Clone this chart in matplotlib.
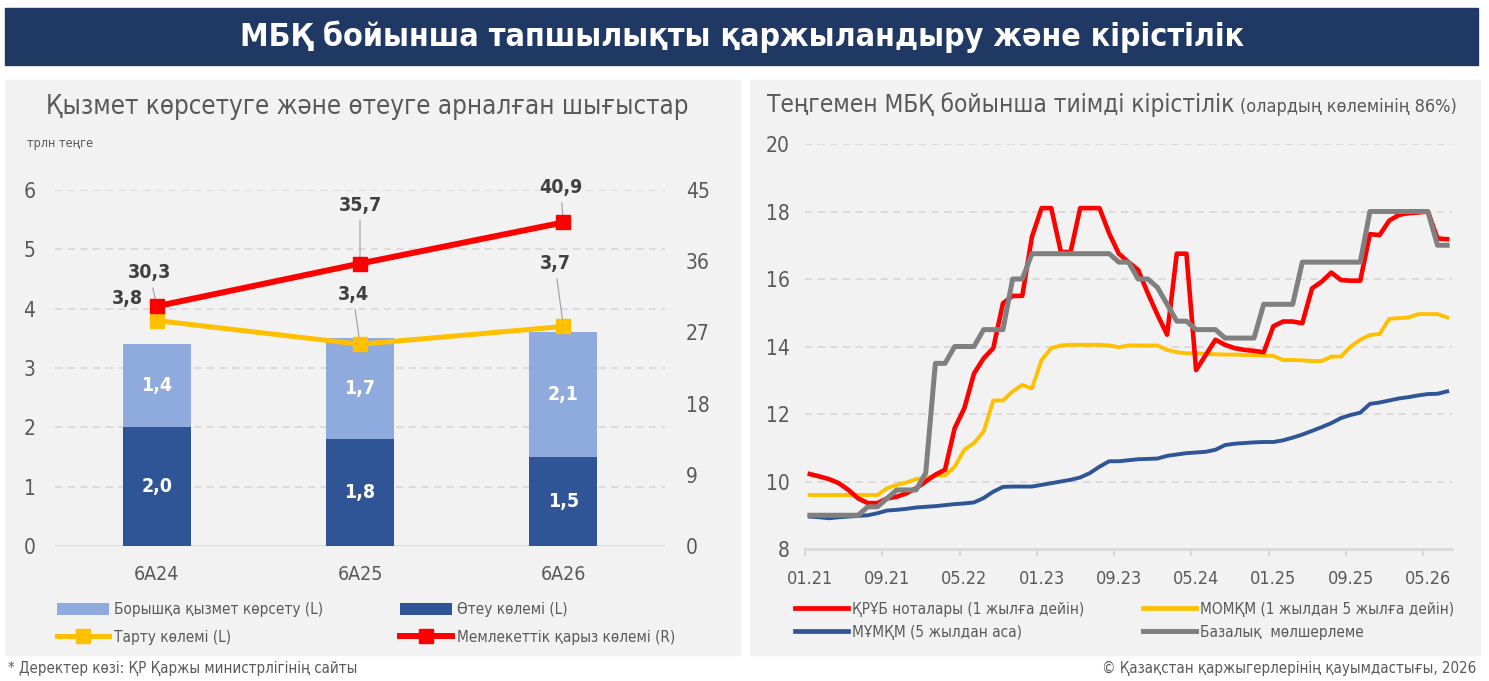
import matplotlib
matplotlib.use('Agg')
import matplotlib.pyplot as plt
from matplotlib import font_manager
from matplotlib.patches import Rectangle
from matplotlib.lines import Line2D
import numpy as np

# шрифт: узкий, если есть
names = {f.name for f in font_manager.fontManager.ttflist}
if 'Liberation Sans Narrow' in names:
    plt.rcParams['font.family'] = ['Liberation Sans Narrow', 'DejaVu Sans']
else:
    plt.rcParams['font.family'] = ['DejaVu Sans']
    plt.rcParams['font.stretch'] = 'condensed'

# ---- данные: левая панель ----
periods = ['6А24', '6А25', '6А26']
otey = [2.0, 1.8, 1.5]            # Өтеу көлемі (L)
qyzmet = [1.4, 1.7, 2.1]          # Борышқа қызмет көрсету (L)
tartu = [3.8, 3.4, 3.7]           # Тарту көлемі (L)
qaryz = [30.3, 35.7, 40.9]        # Мемлекеттік қарыз көлемі (R)

# ---- данные: правая панель (помесячно, 01.21 - 07.26) ----
month_labels = ['01.21', '09.21', '05.22', '01.23', '09.23', '05.24', '01.25', '09.25', '05.26']
kruyb = [10.22, 10.15, 10.07, 9.95, 9.75, 9.5, 9.36, 9.36, 9.5, 9.55,
         9.65, 9.8, 10.0, 10.2, 10.35, 11.58, 12.17, 13.2, 13.65, 13.95,
         15.28, 15.5, 15.5, 17.25, 18.1, 18.1, 16.8, 16.8, 18.1, 18.1,
         18.1, 17.35, 16.75, 16.5, 16.27, 15.58, 14.94, 14.35, 16.75, 16.75,
         13.3, 13.75, 14.2, 14.05, 13.95, 13.9, 13.87, 13.83, 14.6, 14.74,
         14.74, 14.69, 15.72, 15.92, 16.19, 15.97, 15.95, 15.95, 17.33, 17.3,
         17.73, 17.9, 17.95, 17.97, 18.0, 17.2, 17.18]
momkm = [9.6, 9.6, 9.6, 9.6, 9.6, 9.6, 9.6, 9.6, 9.8, 9.9,
         9.97, 10.07, 10.1, 10.18, 10.18, 10.44, 10.94, 11.14, 11.48, 12.4,
         12.4, 12.67, 12.86, 12.76, 13.6, 13.95, 14.03, 14.05, 14.05, 14.05,
         14.05, 14.03, 13.98, 14.03, 14.03, 14.03, 14.03, 13.9, 13.83, 13.8,
         13.8, 13.78, 13.77, 13.76, 13.76, 13.75, 13.74, 13.73, 13.72, 13.6,
         13.6, 13.59, 13.57, 13.57, 13.7, 13.7, 14.0, 14.2, 14.34, 14.37,
         14.82, 14.84, 14.86, 14.96, 14.96, 14.96, 14.86]
mumkm = [8.96, 8.94, 8.91, 8.94, 8.96, 8.98, 9.0, 9.06, 9.14, 9.16,
         9.19, 9.23, 9.25, 9.27, 9.3, 9.33, 9.35, 9.38, 9.51, 9.7,
         9.84, 9.85, 9.85, 9.85, 9.9, 9.95, 10.0, 10.05, 10.12, 10.25,
         10.44, 10.6, 10.6, 10.63, 10.66, 10.67, 10.68, 10.76, 10.8, 10.84,
         10.86, 10.88, 10.94, 11.08, 11.12, 11.14, 11.16, 11.17, 11.17, 11.22,
         11.3, 11.39, 11.5, 11.61, 11.73, 11.88, 11.97, 12.04, 12.3, 12.34,
         12.4, 12.46, 12.5, 12.55, 12.59, 12.6, 12.67]
bazalyq = [9.0, 9.0, 9.0, 9.0, 9.0, 9.0, 9.25, 9.25, 9.5, 9.75,
           9.75, 9.75, 10.25, 13.5, 13.5, 14.0, 14.0, 14.0, 14.5, 14.5,
           14.5, 16.0, 16.0, 16.75, 16.75, 16.75, 16.75, 16.75, 16.75, 16.75,
           16.75, 16.75, 16.5, 16.5, 16.0, 16.0, 15.75, 15.25, 14.75, 14.75,
           14.5, 14.5, 14.5, 14.25, 14.25, 14.25, 14.25, 15.25, 15.25, 15.25,
           15.25, 16.5, 16.5, 16.5, 16.5, 16.5, 16.5, 16.5, 18.0, 18.0,
           18.0, 18.0, 18.0, 18.0, 18.0, 17.0, 17.0]

C_RED = '#FF0000'
C_YEL = '#FFC000'
C_BLUE = '#2F5597'
C_GRAY = '#808080'
C_LIGHT = '#8FAADC'
C_TXT = '#595959'
C_GRID = '#D9D9D9'
C_BG = '#F2F2F2'

W, H = 1489, 681


def box(x0, y0, x1, y1):
    return [x0 / W, 1 - y1 / H, (x1 - x0) / W, (y1 - y0) / H]


def fx(x):
    return x / W


def fy(y):
    return 1 - y / H


def num(v):
    return f'{v:.1f}'.replace('.', ',')


fig = plt.figure(figsize=(W / 100, H / 100), dpi=100)
fig.patch.set_facecolor('white')

# фон: шапка и две панели
for (x0, y0, x1, y1, c) in [(5, 8, 1478, 65, '#203864'),
                            (5, 80, 740, 655, C_BG),
                            (750, 80, 1480, 655, C_BG)]:
    fig.patches.append(Rectangle((fx(x0), fy(y1)), fx(x1) - fx(x0), fy(y0) - fy(y1),
                                 transform=fig.transFigure, color=c, zorder=-5))

fig.text(fx(742), fy(37), 'МБҚ бойынша тапшылықты қаржыландыру және кірістілік',
         ha='center', va='center', color='white', fontsize=23, fontweight='bold')

# ================= левая панель =================
axL = fig.add_axes(box(55, 190, 665, 546))
axL.set_facecolor('none')
x = np.arange(len(periods))
bw = 0.333
b1 = axL.bar(x, otey, bw, color=C_BLUE, zorder=3)
b2 = axL.bar(x, qyzmet, bw, bottom=otey, color=C_LIGHT, zorder=3)
for i in range(len(periods)):
    axL.text(x[i], otey[i] / 2, num(otey[i]), ha='center', va='center',
             color='white', fontsize=14, fontweight='bold', zorder=5)
    axL.text(x[i], otey[i] + qyzmet[i] / 2, num(qyzmet[i]),
             ha='center', va='center', color='white', fontsize=14, fontweight='bold', zorder=5)

lt, = axL.plot(x, tartu, color=C_YEL, lw=3.6, marker='s', ms=10, zorder=6)
axL.set_xlim(-0.5, 2.5)
axL.set_ylim(0, 6)
axL.set_yticks(range(0, 7))
axL.set_xticks(x)
axL.set_xticklabels(periods)
axL.yaxis.grid(True, color=C_GRID, lw=1.3, linestyle=(0, (4, 3)), zorder=0)
axL.axhline(0, color=C_GRID, lw=2, zorder=2)
for s in axL.spines.values():
    s.set_visible(False)
axL.tick_params(axis='y', length=0, labelsize=15, labelcolor=C_TXT, pad=14)
axL.tick_params(axis='x', length=0, labelsize=14, labelcolor=C_TXT, pad=14)
axL.get_ygridlines()[0].set_visible(False)

ax2 = axL.twinx()
lq, = ax2.plot(x, qaryz, color=C_RED, lw=4.3, marker='s', ms=10, zorder=6)
ax2.set_ylim(0, 45)
ax2.set_yticks(range(0, 46, 9))
for s in ax2.spines.values():
    s.set_visible(False)
ax2.tick_params(axis='y', length=0, labelsize=15, labelcolor=C_TXT, pad=15)

lab_kw = dict(textcoords='offset points', ha='center', va='center', fontsize=14,
              fontweight='bold', color='#404040', annotation_clip=False,
              arrowprops=dict(arrowstyle='-', color='#A6A6A6', lw=0.9, shrinkA=2, shrinkB=3))
offs_q = [(-5, 24), (0, 42), (-2, 25)]
for i in range(len(periods)):
    ax2.annotate(num(qaryz[i]), (x[i], qaryz[i]), xytext=offs_q[i], **lab_kw)
offs_t = [(-21, 16), (-5, 36), (-6, 45)]
for i in range(len(periods)):
    kw = dict(lab_kw)
    if i == 0:
        kw.pop('arrowprops')
    axL.annotate(num(tartu[i]), (x[i], tartu[i]), xytext=offs_t[i], **kw)

fig.text(fx(367), fy(107), 'Қызмет көрсетуге және өтеуге арналған шығыстар',
         ha='center', va='center', color=C_TXT, fontsize=18.5)
fig.text(fx(27), fy(143), 'трлн теңге', ha='left', va='center', color=C_TXT, fontsize=9)

leg_kw = dict(frameon=False, loc='upper left', fontsize=11, handlelength=3.4,
              handleheight=0.8, labelspacing=0.85, handletextpad=0.3,
              labelcolor=C_TXT, borderaxespad=0, borderpad=0)
fig.legend([b2, lt], ['Борышқа қызмет көрсету (L)', 'Тарту көлемі (L)'],
           bbox_to_anchor=(fx(57), fy(602)), **leg_kw)
fig.legend([b1, lq], ['Өтеу көлемі (L)', 'Мемлекеттік қарыз көлемі (R)'],
           bbox_to_anchor=(fx(400), fy(602)), **leg_kw)

# ================= правая панель =================
axR = fig.add_axes(box(805, 144, 1452, 549))
axR.set_facecolor('none')
m = np.arange(len(kruyb))
axR.plot(m, mumkm, color=C_BLUE, lw=2.8, zorder=3)
axR.plot(m, momkm, color=C_YEL, lw=2.8, zorder=3)
axR.plot(m, kruyb, color=C_RED, lw=3.3, zorder=4)
axR.plot(m, bazalyq, color=C_GRAY, lw=3.6, zorder=5)
axR.set_xlim(-0.5, 66.5)
axR.set_ylim(8, 20)
axR.set_yticks(range(8, 21, 2))
axR.set_xticks(np.arange(0, len(kruyb), 8))
axR.set_xticklabels(month_labels)
axR.set_xticks(np.arange(0, len(kruyb), 8) - 0.5, minor=True)
axR.yaxis.grid(True, color=C_GRID, lw=1.3, linestyle=(0, (4, 3)), zorder=0)
for s in ['top', 'right', 'left']:
    axR.spines[s].set_visible(False)
axR.spines['bottom'].set_color(C_GRID)
axR.spines['bottom'].set_linewidth(2)
axR.tick_params(axis='y', length=0, labelsize=15, labelcolor=C_TXT, pad=11)
axR.tick_params(axis='x', which='major', length=0, labelsize=13, labelcolor=C_TXT, pad=15)
axR.tick_params(axis='x', which='minor', length=5, width=1.5, color=C_GRID)
axR.get_ygridlines()[0].set_visible(False)

fig.text(fx(767), fy(105), 'Теңгемен МБҚ бойынша тиімді кірістілік',
         ha='left', va='center', color=C_TXT, fontsize=17.5)
fig.text(fx(1240), fy(107), '(олардың көлемінің 86%)', ha='left', va='center',
         color=C_TXT, fontsize=13)

hR = [Line2D([], [], color=C_RED, lw=3.4), Line2D([], [], color=C_BLUE, lw=3.4)]
hR2 = [Line2D([], [], color=C_YEL, lw=3.4), Line2D([], [], color=C_GRAY, lw=3.6)]
legR = dict(leg_kw)
legR.update(fontsize=11, handlelength=3.5, labelspacing=0.5, handletextpad=0.25)
fig.legend(hR, ['ҚРҰБ ноталары (1 жылға дейін)', 'МҰМҚМ (5 жылдан аса)'],
           bbox_to_anchor=(fx(795), fy(602)), **legR)
fig.legend(hR2, ['МОМҚМ (1 жылдан 5 жылға дейін)', 'Базалық  мөлшерлеме'],
           bbox_to_anchor=(fx(1143), fy(602)), **legR)

# подвал
fig.text(fx(8), fy(668), '* Деректер көзі: ҚР Қаржы министрлігінің сайты',
         ha='left', va='center', color=C_TXT, fontsize=10.8)
fig.text(fx(1476), fy(668), '© Қазақстан қаржыгерлерінің қауымдастығы, 2026',
         ha='right', va='center', color=C_TXT, fontsize=10.8)

fig.savefig('out.png', dpi=100, facecolor='white')
